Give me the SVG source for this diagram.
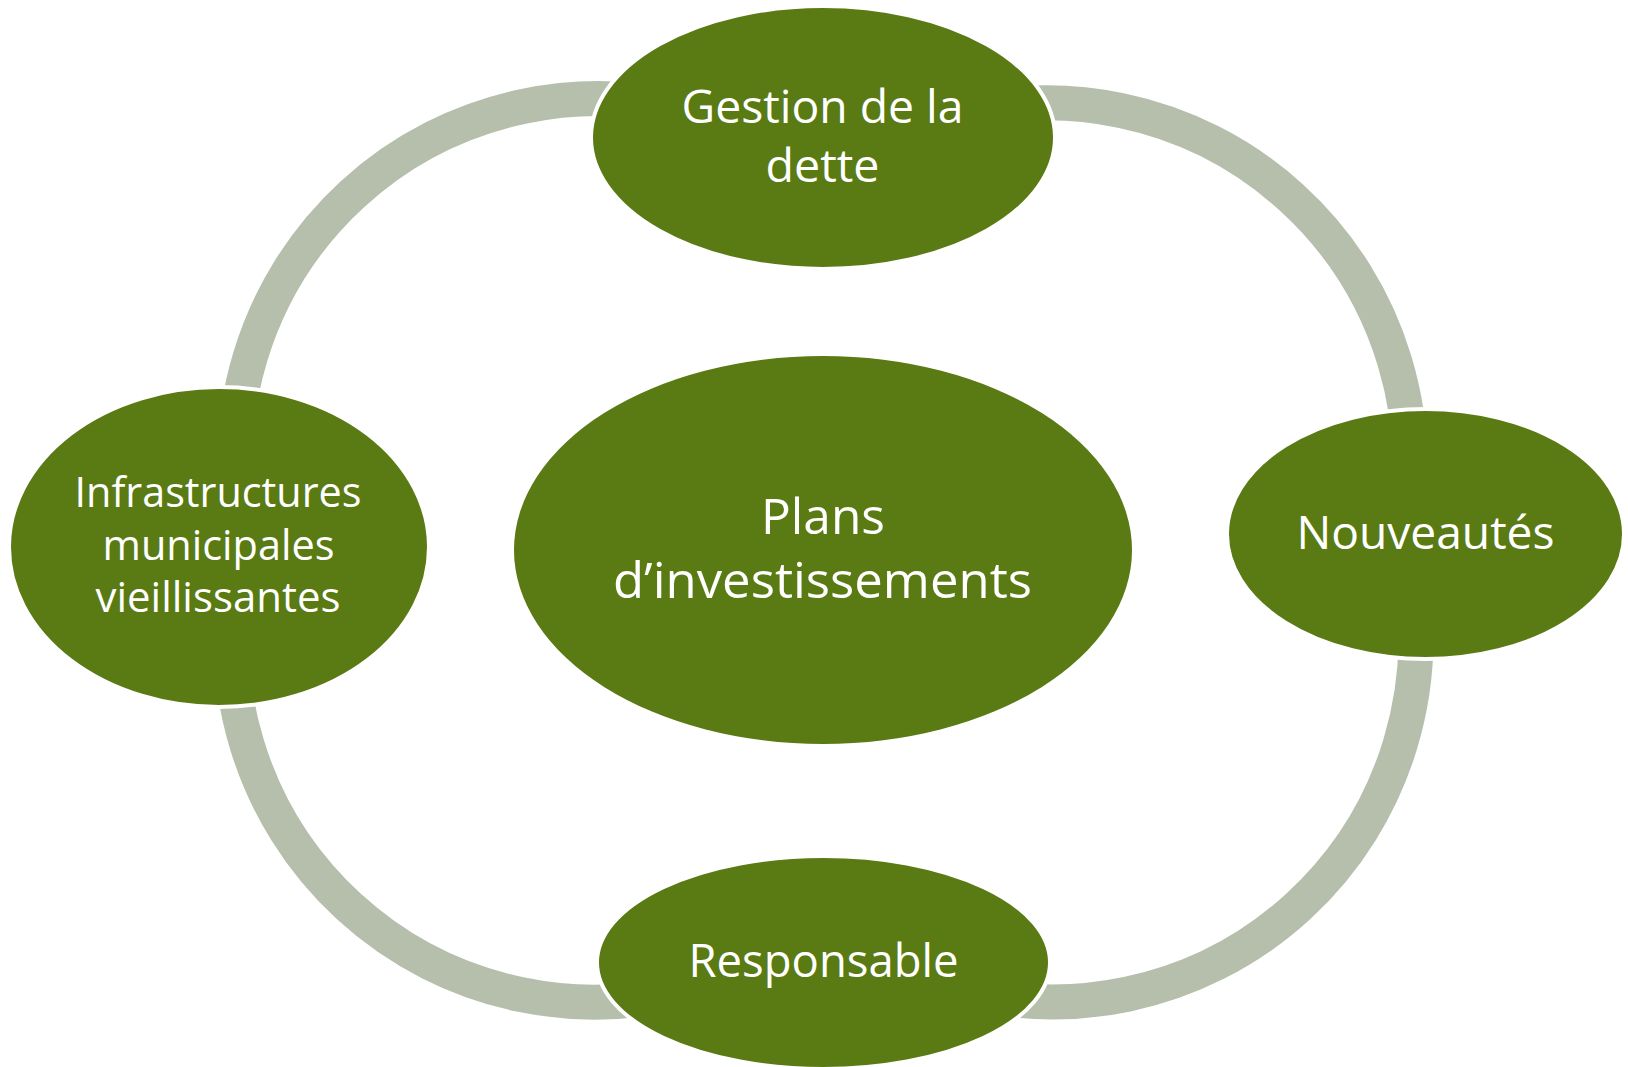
<svg xmlns="http://www.w3.org/2000/svg" width="1628" height="1067" viewBox="0 0 1628 1067">
  <style>
    .ring { fill: none; stroke: #B5BFAC; stroke-width: 35; stroke-linecap: butt; }
    .node { fill: #5A7A13; stroke: #FFFFFF; stroke-width: 4; }
    .hub { fill: #5A7A13; }
    .lbl { fill: #FFFFFF; font-family: "Open Sans", "Liberation Sans", sans-serif; text-anchor: middle; }
  </style>
  <rect x="0" y="0" width="1628" height="1067" fill="#FFFFFF"/>
  <g id="connectors">
    <path class="ring" d="M 240.31 524.73 A 363 363 0 0 1 691.75 111.07"/>
    <path class="ring" d="M 953.15 115.37 A 363 363 0 0 1 1404.59 529.03"/>
    <path class="ring" d="M 1410.29 575.92 A 363 363 0 0 1 958.85 989.58"/>
    <path class="ring" d="M 688.25 989.68 A 363 363 0 0 1 236.81 576.02"/>
  </g>
  <g id="node-center">
    <ellipse class="hub" cx="823" cy="550" rx="309" ry="194"/>
    <text class="lbl" font-size="50" x="823" y="534" textLength="124" lengthAdjust="spacingAndGlyphs">Plans</text>
    <text class="lbl" font-size="50" x="822.5" y="598" textLength="419" lengthAdjust="spacingAndGlyphs">d’investissements</text>
  </g>
  <g id="node-gestion">
    <ellipse class="node" cx="823" cy="137.5" rx="232" ry="131.5"/>
    <text class="lbl" font-size="46" x="822.5" y="123" textLength="282" lengthAdjust="spacingAndGlyphs">Gestion de la</text>
    <text class="lbl" font-size="46" x="822.5" y="182" textLength="114" lengthAdjust="spacingAndGlyphs">dette</text>
  </g>
  <g id="node-nouveautes">
    <ellipse class="node" cx="1425.5" cy="534" rx="198.5" ry="125"/>
    <text class="lbl" font-size="46" x="1425.5" y="549" textLength="258" lengthAdjust="spacingAndGlyphs">Nouveautés</text>
  </g>
  <g id="node-responsable">
    <ellipse class="node" cx="823.5" cy="962.5" rx="226.5" ry="106.5"/>
    <text class="lbl" font-size="46" x="823.5" y="977" textLength="270" lengthAdjust="spacingAndGlyphs">Responsable</text>
  </g>
  <g id="node-infrastructures">
    <ellipse class="node" cx="219" cy="547" rx="210" ry="160"/>
    <text class="lbl" font-size="41.5" x="218" y="507" textLength="287" lengthAdjust="spacingAndGlyphs">Infrastructures</text>
    <text class="lbl" font-size="41.5" x="218.5" y="560" textLength="232" lengthAdjust="spacingAndGlyphs">municipales</text>
    <text class="lbl" font-size="41.5" x="218" y="612" textLength="245" lengthAdjust="spacingAndGlyphs">vieillissantes</text>
  </g>
</svg>
